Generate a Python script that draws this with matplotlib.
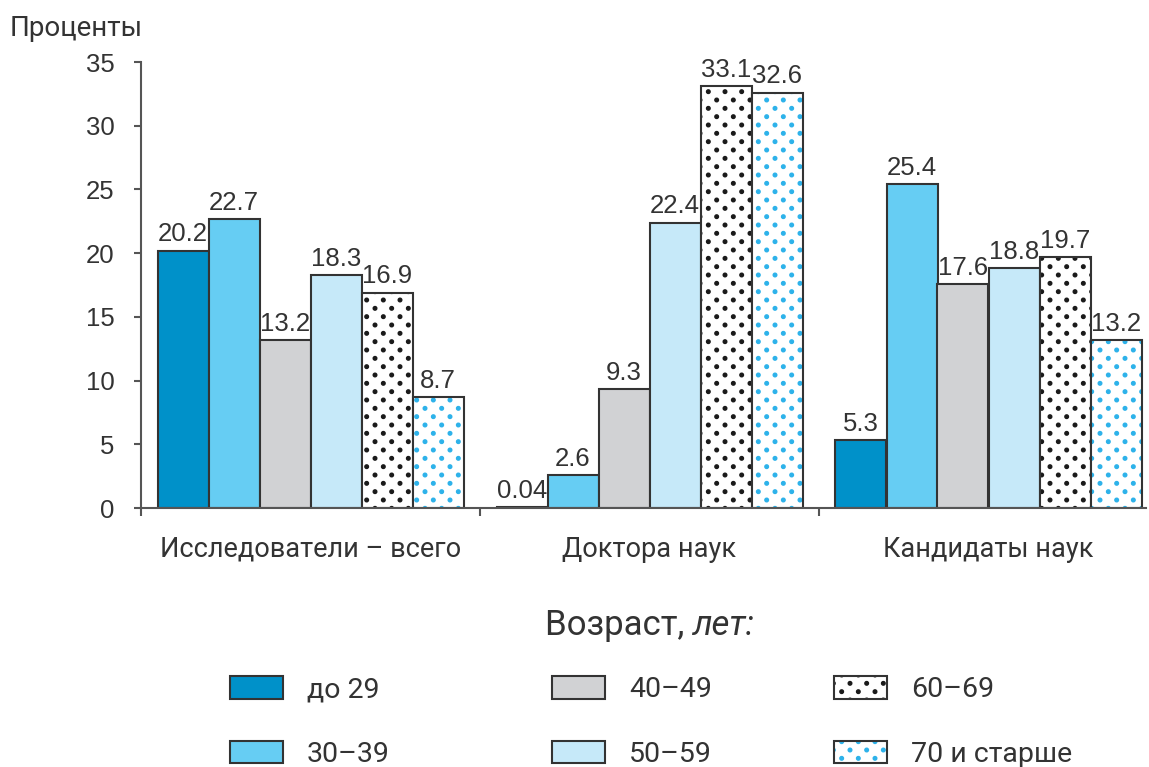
import matplotlib
matplotlib.use("Agg")
import matplotlib.pyplot as plt
import matplotlib.hatch as mhatch
import numpy as np
from matplotlib.path import Path
from matplotlib.patches import Patch

# ---------------- data ----------------
categories = ["Исследователи – всего", "Доктора наук", "Кандидаты наук"]
age_groups = ["до 29", "30–39", "40–49", "50–59", "60–69", "70 и старше"]
v_upto29 = [20.2, 0.04, 5.3]
v_30_39 = [22.7, 2.6, 25.4]
v_40_49 = [13.2, 9.3, 17.6]
v_50_59 = [18.3, 22.4, 18.8]
v_60_69 = [16.9, 33.1, 19.7]
v_70plus = [8.7, 32.6, 13.2]
yticks = [0, 5, 10, 15, 20, 25, 30, 35]
series = [v_upto29, v_30_39, v_40_49, v_50_59, v_60_69, v_70plus]


# ------------- custom dot hatch (staggered, dense rows) -------------
class DenseDots(mhatch.HatchPatternBase):
    def __init__(self, hatch, density):
        n = hatch.count('.')
        self.ncols = 6 * n
        self.nrows = 2 * self.ncols
        circ = Path.unit_circle()
        self.sv = circ.vertices
        self.sc = circ.codes
        if n == 0:
            self.num_vertices = 0
        else:
            count = 0
            for r in range(self.nrows + 1):
                count += (self.ncols + 1) if r % 2 == 0 else self.ncols
            self.num_vertices = count * len(self.sv)

    def set_vertices_and_codes(self, vertices, codes):
        dx = 1.0 / self.ncols
        dy = 1.0 / self.nrows
        sv = self.sv * 0.018
        vp, cp = [], []
        for r in range(self.nrows + 1):
            if r % 2 == 0:
                cols = np.linspace(0, 1, self.ncols + 1)
            else:
                cols = np.linspace(dx / 2, 1 - dx / 2, self.ncols)
            for c in cols:
                vp.append(sv + [c, r * dy])
                cp.append(self.sc)
        np.concatenate(vp, out=vertices)
        np.concatenate(cp, out=codes)


mhatch._hatch_types = [DenseDots if t is mhatch.SmallFilledCircles else t
                       for t in mhatch._hatch_types]

# ---------------- style ----------------
TXT = '#333333'
EDGE = '#333333'
SPINE = '#555555'
faces = ['#0091C9', '#66CDF3', '#D1D2D4', '#C6E9F9', 'white', 'white']
hatch_cols = [None, None, None, None, '#1a1a1a', '#2DB2EA']

W, H = 1149, 767
fig = plt.figure(figsize=(W / 100, H / 100), dpi=100)
ax_left, ax_right, ax_top, ax_bot = 141, 1146, 62, 508
ax = fig.add_axes([ax_left / W, 1 - ax_bot / H, (ax_right - ax_left) / W,
                   (ax_bot - ax_top) / H])

cat_px = 339.0
x = np.arange(len(categories)) + 0.5
w = 51 / cat_px

handles = []
for j, vals in enumerate(series):
    pos = x + (j - 2.5) * w
    if hatch_cols[j] is None:
        bc = ax.bar(pos, vals, w, color=faces[j], edgecolor=EDGE, linewidth=1.5)
        handles.append(Patch(facecolor=faces[j], edgecolor=EDGE, linewidth=1.5))
    else:
        ax.bar(pos, vals, w, color='white', edgecolor=hatch_cols[j],
               linewidth=0, hatch='.')
        bc = ax.bar(pos, vals, w, fill=False, edgecolor=EDGE, linewidth=1.5)
        handles.append((Patch(facecolor='white', edgecolor=hatch_cols[j],
                              linewidth=0, hatch='.'),
                        Patch(fill=False, edgecolor=EDGE, linewidth=1.5)))
    ax.bar_label(bc, labels=[f"{v:g}" for v in vals], padding=3,
                 fontsize=18.5, color=TXT, family='Liberation Sans')

ax.set_xlim(0, (ax_right - ax_left) / cat_px)
ax.set_ylim(0, 35)
for s in ['top', 'right']:
    ax.spines[s].set_visible(False)
for s in ['left', 'bottom']:
    ax.spines[s].set_color(SPINE)
    ax.spines[s].set_linewidth(1.5)

ax.set_yticks(yticks)
ax.set_yticklabels([str(t) for t in yticks])
ax.tick_params(axis='y', direction='out', length=5, width=1.5, color=SPINE,
               pad=14, labelsize=18.5, labelcolor=TXT)
for lab in ax.get_yticklabels():
    lab.set_family('Liberation Sans')

ax.set_xticks([0, 1, 2])
ax.set_xticklabels([])
ax.tick_params(axis='x', which='major', direction='out', length=6, width=1.5,
               color=SPINE)
ax.set_xticks(x, minor=True)
ax.set_xticklabels(categories, minor=True)
ax.tick_params(axis='x', which='minor', length=0, pad=20, labelsize=19.5,
               labelcolor=TXT)
for lab in ax.get_xticklabels(minor=True):
    lab.set_family('Roboto')

fig.text(10 / W, 1 - 36 / H, "Проценты", fontsize=20, family='Roboto',
         color=TXT, ha='left', va='baseline')

# legend title "Возраст, лет:" with italic part
renderer = fig.canvas.get_renderer()
t1 = fig.text(0, 0, "Возраст, ", fontsize=25, family='Roboto', color=TXT,
              ha='left', va='baseline')
t2 = fig.text(0, 0, "лет:", fontsize=25, family='Roboto', style='italic',
              color=TXT, ha='left', va='baseline')
w1 = t1.get_window_extent(renderer).width
w2 = t2.get_window_extent(renderer).width
cx, by = 650, 1 - 635 / H
x0 = cx - (w1 + w2) / 2
t1.set_position((x0 / W, by))
t2.set_position(((x0 + w1) / W, by))

# legend: three columns
fs = 20.5
fs_px = fs * 100 / 72
col_x = [230, 552, 834]
for c in range(3):
    leg = fig.legend(handles[2 * c:2 * c + 2], age_groups[2 * c:2 * c + 2],
                     loc='upper left', bbox_to_anchor=(col_x[c] / W, 1 - 676 / H),
                     frameon=False, borderpad=0, borderaxespad=0,
                     handlelength=53 / fs_px, handleheight=24 / fs_px,
                     handletextpad=24 / fs_px, labelspacing=1.32,
                     prop={'family': 'Roboto', 'size': fs})
    for t in leg.get_texts():
        t.set_color(TXT)

fig.savefig("out.png", dpi=100)
